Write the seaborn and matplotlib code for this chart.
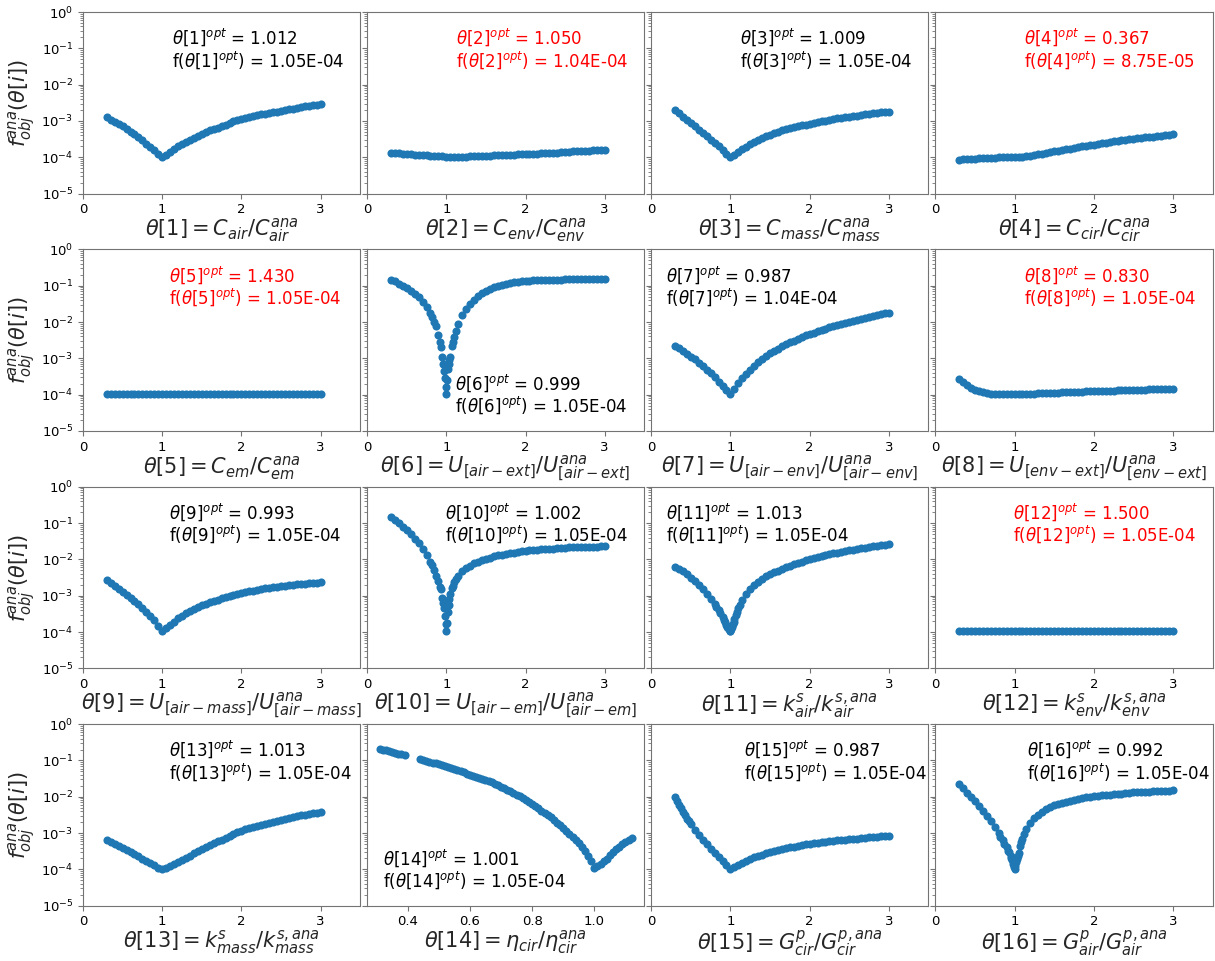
import numpy as np
import matplotlib
matplotlib.use('Agg')
import matplotlib.pyplot as plt
import seaborn as sns

# theta grid shared by panels 1-13, 15, 16
theta_grid = [0.30, 0.35, 0.40, 0.45, 0.50, 0.55, 0.60, 0.65, 0.70, 0.75,
              0.80, 0.85, 0.90, 0.95, 1.00, 1.05, 1.10, 1.15, 1.20, 1.25,
              1.30, 1.35, 1.40, 1.45,
              1.50, 1.55, 1.60, 1.65, 1.70, 1.75, 1.80, 1.85, 1.90, 1.95,
              2.00, 2.05, 2.10, 2.15, 2.20, 2.25, 2.30, 2.35, 2.40, 2.45,
              2.50, 2.55, 2.60, 2.65, 2.70, 2.75, 2.80, 2.85, 2.90, 2.95, 3.00]

# objective values, stored as log10(f)
logf_c_air = [-2.90, -2.96, -3.02, -3.08, -3.15, -3.22, -3.29, -3.37, -3.45, -3.53,
              -3.62, -3.71, -3.80, -3.90, -3.98, -3.93, -3.85, -3.77, -3.70, -3.63,
              -3.57, -3.51, -3.46, -3.40,
              -3.35, -3.30, -3.26, -3.22, -3.18, -3.14, -3.10, -3.05, -3.01, -2.97,
              -2.94, -2.91, -2.89, -2.86, -2.84, -2.82, -2.80, -2.78, -2.76, -2.74,
              -2.72, -2.70, -2.68, -2.66, -2.64, -2.62, -2.60, -2.58, -2.57, -2.55, -2.54]
logf_c_env = [-3.87, -3.88, -3.89, -3.90, -3.91, -3.92, -3.93, -3.94, -3.95, -3.95,
              -3.96, -3.96, -3.97, -3.97, -3.98, -3.98, -3.98, -3.98, -3.98, -3.98,
              -3.97, -3.97, -3.97, -3.96,
              -3.96, -3.96, -3.95, -3.95, -3.94, -3.94, -3.93, -3.93, -3.92, -3.92,
              -3.91, -3.91, -3.90, -3.90, -3.89, -3.89, -3.88, -3.88, -3.87, -3.86,
              -3.85, -3.85, -3.84, -3.84, -3.83, -3.83, -3.82, -3.81, -3.80, -3.80, -3.79]
logf_c_mass = [-2.70, -2.79, -2.88, -2.97, -3.06, -3.15, -3.24, -3.33, -3.42, -3.51,
               -3.60, -3.70, -3.80, -3.90, -3.98, -3.94, -3.86, -3.78, -3.71, -3.64,
               -3.58, -3.52, -3.47, -3.42,
               -3.38, -3.34, -3.30, -3.26, -3.23, -3.20, -3.17, -3.14, -3.12, -3.10,
               -3.08, -3.05, -3.03, -3.01, -2.99, -2.97, -2.95, -2.93, -2.92, -2.90,
               -2.88, -2.86, -2.85, -2.83, -2.82, -2.80, -2.79, -2.77, -2.76, -2.75, -2.74]
logf_c_cir = [-4.07, -4.06, -4.06, -4.05, -4.04, -4.03, -4.02, -4.02, -4.01, -4.01,
              -4.00, -4.00, -4.00, -3.99, -3.99, -3.99, -3.98, -3.97, -3.96, -3.94,
              -3.92, -3.90, -3.88, -3.86,
              -3.84, -3.82, -3.80, -3.78, -3.76, -3.74, -3.72, -3.70, -3.68, -3.66,
              -3.65, -3.63, -3.61, -3.60, -3.58, -3.56, -3.55, -3.53, -3.52, -3.50,
              -3.49, -3.47, -3.46, -3.45, -3.44, -3.43, -3.42, -3.40, -3.39, -3.38, -3.37]
logf_c_em = [-3.98] * 55
logf_u_air_ext = [-0.83, -0.88, -0.94, -1.00, -1.07, -1.14, -1.22, -1.32, -1.44, -1.58,
                  -1.76, -2.00, -2.35, -2.95, -3.98, -2.95, -2.40, -2.05, -1.82, -1.65,
                  -1.50, -1.38, -1.28, -1.20,
                  -1.14, -1.09, -1.04, -1.00, -0.97, -0.94, -0.92, -0.90, -0.89, -0.88,
                  -0.87, -0.86, -0.85, -0.85, -0.84, -0.84, -0.83, -0.83, -0.83, -0.83,
                  -0.82, -0.82, -0.82, -0.82, -0.82, -0.82, -0.82, -0.82, -0.82, -0.82, -0.82]
logf_u_air_env = [-2.66, -2.72, -2.79, -2.87, -2.95, -3.03, -3.12, -3.21, -3.31, -3.41,
                  -3.52, -3.64, -3.76, -3.88, -3.97, -3.84, -3.69, -3.55, -3.42, -3.31,
                  -3.20, -3.10, -3.01, -2.93,
                  -2.86, -2.79, -2.73, -2.67, -2.61, -2.56, -2.51, -2.46, -2.41, -2.37,
                  -2.33, -2.29, -2.25, -2.22, -2.19, -2.15, -2.12, -2.09, -2.06, -2.03,
                  -2.00, -1.97, -1.95, -1.92, -1.89, -1.86, -1.84, -1.81, -1.79, -1.76, -1.74]
logf_u_env_ext = [-3.58, -3.66, -3.74, -3.81, -3.87, -3.91, -3.94, -3.96, -3.97, -3.98,
                  -3.98, -3.98, -3.98, -3.98, -3.98, -3.98, -3.98, -3.97, -3.97, -3.97,
                  -3.96, -3.96, -3.96, -3.95,
                  -3.95, -3.95, -3.94, -3.94, -3.93, -3.93, -3.92, -3.92, -3.91, -3.91,
                  -3.90, -3.90, -3.89, -3.89, -3.89, -3.89, -3.88, -3.88, -3.87, -3.87,
                  -3.87, -3.87, -3.86, -3.86, -3.85, -3.85, -3.85, -3.85, -3.84, -3.84, -3.83]
logf_u_air_mass = [-2.57, -2.65, -2.73, -2.81, -2.89, -2.97, -3.06, -3.15, -3.24, -3.34,
                   -3.44, -3.55, -3.67, -3.82, -3.98, -3.90, -3.80, -3.71, -3.62, -3.55,
                   -3.48, -3.42, -3.36, -3.31,
                   -3.26, -3.22, -3.18, -3.14, -3.11, -3.07, -3.04, -3.01, -2.98, -2.95,
                   -2.93, -2.90, -2.88, -2.86, -2.84, -2.82, -2.80, -2.78, -2.77, -2.75,
                   -2.74, -2.72, -2.71, -2.70, -2.69, -2.68, -2.67, -2.66, -2.65, -2.64, -2.63]
logf_u_air_em = [-0.84, -0.92, -1.01, -1.10, -1.20, -1.31, -1.43, -1.56, -1.71, -1.88,
                 -2.07, -2.30, -2.60, -3.05, -3.98, -2.95, -2.62, -2.45, -2.33, -2.24,
                 -2.17, -2.11, -2.06, -2.02,
                 -1.98, -1.95, -1.92, -1.89, -1.87, -1.85, -1.83, -1.81, -1.79, -1.78,
                 -1.77, -1.75, -1.74, -1.73, -1.72, -1.71, -1.71, -1.70, -1.69, -1.68,
                 -1.68, -1.67, -1.67, -1.66, -1.66, -1.65, -1.65, -1.65, -1.65, -1.64, -1.64]
logf_k_air = [-2.22, -2.27, -2.33, -2.41, -2.50, -2.60, -2.71, -2.82, -2.95, -3.08,
              -3.23, -3.40, -3.58, -3.80, -3.98, -3.65, -3.35, -3.12, -2.95, -2.82,
              -2.71, -2.62, -2.54, -2.47,
              -2.41, -2.36, -2.31, -2.26, -2.22, -2.18, -2.14, -2.10, -2.06, -2.02,
              -1.99, -1.96, -1.93, -1.90, -1.88, -1.85, -1.83, -1.81, -1.79, -1.77,
              -1.75, -1.73, -1.71, -1.69, -1.68, -1.66, -1.64, -1.62, -1.61, -1.59, -1.58]
logf_k_env = [-3.97] * 55
logf_k_mass = [-3.20, -3.25, -3.30, -3.35, -3.40, -3.46, -3.52, -3.58, -3.64, -3.70,
               -3.77, -3.83, -3.89, -3.95, -3.98, -3.96, -3.91, -3.86, -3.80, -3.74,
               -3.68, -3.62, -3.56, -3.50,
               -3.44, -3.38, -3.33, -3.28, -3.23, -3.18, -3.13, -3.08, -3.03, -2.98,
               -2.94, -2.90, -2.87, -2.84, -2.81, -2.78, -2.75, -2.72, -2.69, -2.66,
               -2.63, -2.61, -2.58, -2.56, -2.53, -2.51, -2.49, -2.47, -2.45, -2.44, -2.43]
logf_g_cir = [-2.00, -2.22, -2.42, -2.60, -2.76, -2.91, -3.05, -3.18, -3.31, -3.43,
              -3.55, -3.66, -3.77, -3.88, -3.98, -3.94, -3.88, -3.82, -3.77, -3.72,
              -3.67, -3.63, -3.59, -3.55,
              -3.52, -3.49, -3.46, -3.43, -3.41, -3.39, -3.37, -3.35, -3.33, -3.31,
              -3.30, -3.28, -3.27, -3.25, -3.24, -3.22, -3.21, -3.20, -3.19, -3.18,
              -3.17, -3.16, -3.15, -3.14, -3.13, -3.12, -3.11, -3.10, -3.09, -3.08, -3.07]
logf_g_air = [-1.66, -1.77, -1.89, -2.01, -2.13, -2.26, -2.39, -2.53, -2.67, -2.83,
              -3.00, -3.18, -3.38, -3.62, -3.98, -3.55, -3.15, -2.90, -2.72, -2.59,
              -2.49, -2.41, -2.35, -2.29,
              -2.24, -2.20, -2.17, -2.14, -2.11, -2.08, -2.06, -2.04, -2.02, -2.00,
              -1.99, -1.97, -1.96, -1.95, -1.94, -1.93, -1.92, -1.91, -1.90, -1.89,
              -1.88, -1.88, -1.87, -1.86, -1.86, -1.85, -1.84, -1.84, -1.83, -1.83, -1.82]

# extra samples where the curves are steep
theta_near_min = [0.82, 0.87, 0.92, 0.93, 0.96, 0.97, 0.98, 0.99,
                  1.01, 1.02, 1.03, 1.04, 1.07, 1.08, 1.12]
logf_u_air_ext_near = [-1.85, -2.12, -2.55, -2.70, -3.15, -3.35, -3.55, -3.80,
                       -3.60, -3.30, -3.15, -3.05, -2.65, -2.55, -2.25]
logf_u_air_em_near = [-2.15, -2.45, -2.75, -2.82, -3.20, -3.35, -3.55, -3.78,
                      -3.75, -3.45, -3.25, -3.08, -2.80, -2.72, -2.55]
logf_k_air_near = [-3.30, -3.48, -3.67, -3.72, -3.85, -3.88, -3.92, -3.96,
                   -3.92, -3.85, -3.78, -3.71, -3.52, -3.45, -3.25]
logf_g_air_near = [-3.10, -3.30, -3.48, -3.53, -3.68, -3.75, -3.84, -3.92,
                   -3.90, -3.80, -3.70, -3.62, -3.35, -3.25, -3.02]
theta_start = [0.325, 0.375, 0.425, 0.475]
logf_g_cir_start = [-2.11, -2.32, -2.51, -2.68]

# panel 14 has its own sampling (gap between 0.39 and 0.44)
theta_eta = [0.31, 0.32, 0.33, 0.34, 0.35, 0.36, 0.37, 0.38, 0.39,
             0.44, 0.45, 0.46, 0.47, 0.48, 0.49, 0.50, 0.51, 0.52, 0.53,
             0.54, 0.55, 0.56, 0.57, 0.58, 0.59, 0.60, 0.61, 0.62, 0.63,
             0.64, 0.65, 0.66, 0.67, 0.68, 0.69, 0.70, 0.71, 0.72, 0.73,
             0.74, 0.75, 0.76, 0.77, 0.78, 0.79, 0.80, 0.81, 0.82, 0.83,
             0.84, 0.85, 0.86, 0.87, 0.88, 0.89, 0.90, 0.91, 0.92, 0.93,
             0.94, 0.95, 0.96, 0.97, 0.98, 0.99, 1.00, 1.01, 1.02, 1.03,
             1.04, 1.05, 1.06, 1.07, 1.08, 1.09, 1.10, 1.11, 1.12]
logf_eta = [-0.68, -0.70, -0.72, -0.74, -0.77, -0.79, -0.81, -0.83, -0.86,
            -0.97, -0.99, -1.01, -1.03, -1.06, -1.08, -1.10, -1.12, -1.15, -1.17,
            -1.20, -1.23, -1.27, -1.30, -1.33, -1.36, -1.39, -1.42, -1.45, -1.48,
            -1.51, -1.54, -1.57, -1.60, -1.64, -1.68, -1.72, -1.76, -1.81, -1.85,
            -1.90, -1.94, -1.99, -2.04, -2.09, -2.14, -2.20, -2.26, -2.32, -2.38,
            -2.44, -2.50, -2.57, -2.64, -2.71, -2.78, -2.86, -2.94, -3.02, -3.10,
            -3.19, -3.28, -3.38, -3.49, -3.62, -3.78, -3.96, -3.91, -3.85, -3.78,
            -3.70, -3.61, -3.52, -3.45, -3.38, -3.31, -3.25, -3.19, -3.13]

x_labels = [
    r'$\theta[1] = C_{air}/C_{air}^{ana}$',
    r'$\theta[2] = C_{env}/C_{env}^{ana}$',
    r'$\theta[3] = C_{mass}/C_{mass}^{ana}$',
    r'$\theta[4] = C_{cir}/C_{cir}^{ana}$',
    r'$\theta[5] = C_{em}/C_{em}^{ana}$',
    r'$\theta[6] = U_{[air-ext]}/U_{[air-ext]}^{ana}$',
    r'$\theta[7] = U_{[air-env]}/U_{[air-env]}^{ana}$',
    r'$\theta[8] = U_{[env-ext]}/U_{[env-ext]}^{ana}$',
    r'$\theta[9] = U_{[air-mass]}/U_{[air-mass]}^{ana}$',
    r'$\theta[10] = U_{[air-em]}/U_{[air-em]}^{ana}$',
    r'$\theta[11] = k_{air}^{s}/k_{air}^{s,ana}$',
    r'$\theta[12] = k_{env}^{s}/k_{env}^{s,ana}$',
    r'$\theta[13] = k_{mass}^{s}/k_{mass}^{s,ana}$',
    r'$\theta[14] = \eta_{cir}/\eta_{cir}^{ana}$',
    r'$\theta[15] = G_{cir}^{p}/G_{cir}^{p,ana}$',
    r'$\theta[16] = G_{air}^{p}/G_{air}^{p,ana}$',
]
theta_opt = ['1.012', '1.050', '1.009', '0.367', '1.430', '0.999', '0.987', '0.830',
             '0.993', '1.002', '1.013', '1.500', '1.013', '1.001', '0.987', '0.992']
f_opt = ['1.05E-04', '1.04E-04', '1.05E-04', '8.75E-05', '1.05E-04', '1.05E-04',
         '1.04E-04', '1.05E-04', '1.05E-04', '1.05E-04', '1.05E-04', '1.05E-04',
         '1.05E-04', '1.05E-04', '1.05E-04', '1.05E-04']
insensitive = [False, True, False, True, True, False, False, True,
               False, False, False, True, False, False, False, False]

series = [logf_c_air, logf_c_env, logf_c_mass, logf_c_cir, logf_c_em,
          logf_u_air_ext, logf_u_air_env, logf_u_env_ext, logf_u_air_mass,
          logf_u_air_em, logf_k_air, logf_k_env, logf_k_mass, logf_eta,
          logf_g_cir, logf_g_air]
extra = {5: (theta_near_min, logf_u_air_ext_near),
         9: (theta_near_min, logf_u_air_em_near),
         10: (theta_near_min, logf_k_air_near),
         14: (theta_start, logf_g_cir_start),
         15: (theta_near_min, logf_g_air_near)}

# where each annotation sits (axes fraction)
text_pos = [(0.32, 0.92, 'top'), (0.32, 0.92, 'top'), (0.32, 0.92, 'top'), (0.32, 0.92, 'top'),
            (0.31, 0.92, 'top'), (0.316, 0.08, 'bottom'), (0.055, 0.92, 'top'), (0.32, 0.92, 'top'),
            (0.31, 0.92, 'top'), (0.28, 0.92, 'top'), (0.055, 0.92, 'top'), (0.28, 0.92, 'top'),
            (0.31, 0.92, 'top'), (0.058, 0.08, 'bottom'), (0.335, 0.92, 'top'), (0.33, 0.92, 'top')]

sns.set_style('ticks')
plt.rcParams['axes.edgecolor'] = '0.45'
plt.rcParams['xtick.color'] = '0.45'
plt.rcParams['ytick.color'] = '0.45'
plt.rcParams['xtick.labelcolor'] = 'black'
plt.rcParams['ytick.labelcolor'] = 'black'

blue = '#1f77b4'
fig, axes = plt.subplots(4, 4, figsize=(12.15, 9.61), dpi=100, sharey=True)
fig.subplots_adjust(left=0.0683, right=0.998, top=0.9875, bottom=0.0575,
                    wspace=0.025, hspace=0.307)

for i, ax in enumerate(axes.flat):
    xs = theta_eta if i == 13 else theta_grid
    sns.scatterplot(x=xs, y=10.0 ** np.array(series[i]), ax=ax,
                    s=34, color=blue, linewidth=0)
    if i in extra:
        ex, ey = extra[i]
        sns.scatterplot(x=ex, y=10.0 ** np.array(ey), ax=ax,
                        s=34, color=blue, linewidth=0)
    ax.set_yscale('log')
    ax.set_ylim(1e-5, 1e0)
    if i != 13:
        ax.set_xlim(0, 3.5)
        ax.set_xticks([0, 1, 2, 3])
    else:
        ax.set_xticks([0.4, 0.6, 0.8, 1.0])
    ax.tick_params(labelsize=9.5)
    ax.set_xlabel(x_labels[i], fontsize=15, labelpad=0)
    if i % 4 == 0:
        ax.set_ylabel(r'$f_{obj}^{ana}(\theta[i])$', fontsize=15, labelpad=2)
    tx, ty, va = text_pos[i]
    label = (r'$\theta[%d]^{opt}$ = %s' % (i + 1, theta_opt[i]) + '\n'
             + r'f($\theta[%d]^{opt}$) = %s' % (i + 1, f_opt[i]))
    ax.text(tx, ty, label, transform=ax.transAxes, ha='left', va=va,
            fontsize=12, linespacing=1.05,
            color='red' if insensitive[i] else 'black')

fig.savefig('out.png', dpi=100)
